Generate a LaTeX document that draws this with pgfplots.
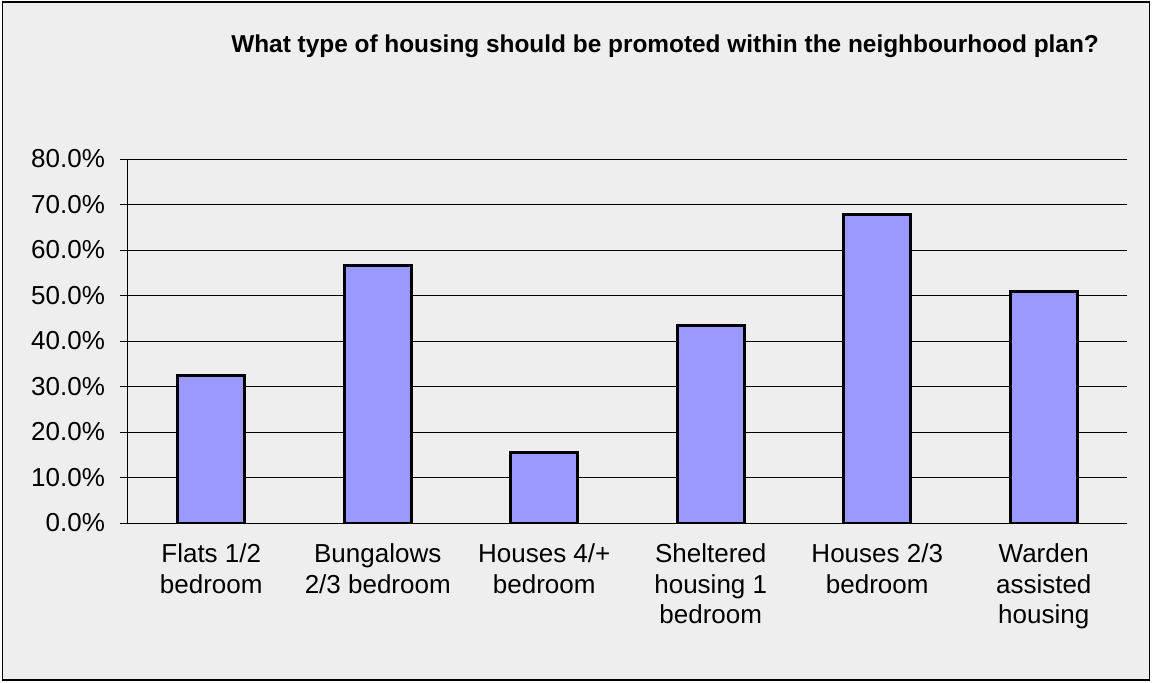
\documentclass[border=0pt]{standalone}
\usepackage{pgfplots}
\pgfplotsset{compat=1.18}
\usepackage{fontspec}
\setmainfont{Liberation Sans}
\definecolor{bg}{HTML}{EEEEEE}
\definecolor{barc}{HTML}{9999FF}
\begin{document}
\begin{tikzpicture}
\fill[white] (0,0) rectangle (576pt,341pt);
\draw[black,line width=0.8pt,fill=bg] (1.25pt,1pt) rectangle (574.75pt,340pt);
\node[anchor=base,font=\bfseries\fontsize{12.2}{15}\selectfont] at (332.5pt,314.5pt) {What type of housing should be promoted within the neighbourhood plan?};
\begin{axis}[
  at={(64pt,79.5pt)}, anchor=south west,
  scale only axis, width=499.5pt, height=182pt,
  xmin=-0.5, xmax=5.5, ymin=0, ymax=80,
  axis x line*=bottom, axis y line*=left,
  axis line style={line width=0.5pt},
  every outer x axis line/.append style={-}, every outer y axis line/.append style={-},
  ytick={0,10,...,80},
  yticklabels={0.0\%,10.0\%,20.0\%,30.0\%,40.0\%,50.0\%,60.0\%,70.0\%,80.0\%},
  ymajorgrids, grid style={black,line width=0.5pt},
  tick align=outside, major tick length=4pt,
  tick style={black,line width=0.5pt},
  xtick={0,...,5},
  xticklabels={Flats 1/2\\bedroom,Bungalows\\2/3 bedroom,Houses 4/+\\bedroom,Sheltered\\housing 1\\bedroom,Houses 2/3\\bedroom,Warden\\assisted\\housing},
  x tick style={draw=none},
  minor xtick={-0.5,0.5,...,5.5},
  minor tick length=4pt,
  minor x tick style={black,line width=0.5pt},
  xticklabel style={align=center,font=\fontsize{13}{15.2}\selectfont,anchor=north,yshift=-3pt},
  yticklabel style={font=\fontsize{13}{15}\selectfont,anchor=east,xshift=-4pt},
  /pgf/number format/assume math mode=true,
]
\addplot[ybar, bar width=0.4, fill=barc, draw=black, line width=1.5pt] coordinates {
(0,32.5) (1,56.6) (2,15.4) (3,43.5) (4,67.7) (5,50.8)};
\end{axis}
\end{tikzpicture}
\end{document}
